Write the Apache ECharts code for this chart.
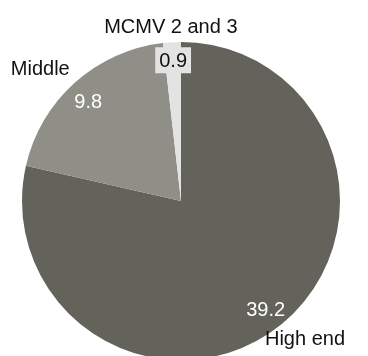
<!DOCTYPE html>
<html lang="en">
<head>
    <meta charset="UTF-8">
    <title>Pie</title>
    <script src="https://cdn.jsdelivr.net/npm/echarts@6/dist/echarts.min.js"></script>
    <style>
        html, body { margin: 0; padding: 0; background: #fff; }
        #main { width: 368px; height: 356px; }
    </style>
</head>
<body>
    <div id="main"></div>
    <script type="text/javascript">
        // data
        const segments = ['High end', 'Middle', 'MCMV 2 and 3'];
        const values = [39.2, 9.8, 0.9];

        const colors = ['#63635b', '#8f8f88', '#e3e3e3'];
        // small nudges for the labels
        const nameShift = [[12, -2], [-21, 2], [0, 6]];
        const valueShift = [[-2, 1], [0, 5], [0, -2]];

        const center = [181, 201];
        const R = 159;
        const font = 'Liberation Sans, Arial, sans-serif';

        const pieData = segments.map((s, i) => ({ name: s, value: values[i] }));

        const chart = echarts.init(document.getElementById('main'));
        const common = {
            type: 'pie',
            center: center,
            startAngle: 90,
            clockwise: true,
            avoidLabelOverlap: false,
            labelLine: { show: false },
            animation: false,
            silent: true,
            data: pieData
        };
        chart.setOption({
            animation: false,
            series: [
                Object.assign({}, common, {
                    radius: R,
                    itemStyle: {
                        color: p => colors[p.dataIndex],
                        borderWidth: 0
                    },
                    label: { show: false }
                }),
                Object.assign({}, common, {
                    radius: [113, R],
                    itemStyle: { color: 'rgba(0,0,0,0)' },
                    label: {
                        show: true,
                        position: 'inside',
                        fontFamily: font,
                        fontSize: 20,
                        formatter: p => p.dataIndex === 2
                            ? '{box|' + p.value + '}'
                            : '{w|' + p.value + '}',
                        rich: {
                            w: { color: '#ffffff', fontSize: 20, fontFamily: font },
                            box: {
                                color: '#111111', fontSize: 20, fontFamily: font,
                                backgroundColor: '#e3e3e3',
                                padding: [4, 4, 2, 4]
                            }
                        }
                    },
                    labelLayout: p => ({
                        dx: valueShift[p.dataIndex][0],
                        dy: valueShift[p.dataIndex][1]
                    })
                }),
                Object.assign({}, common, {
                    radius: [R, 194],
                    itemStyle: { color: 'rgba(0,0,0,0)' },
                    label: {
                        show: true,
                        position: 'inside',
                        color: '#111111',
                        fontFamily: font,
                        fontSize: 20,
                        formatter: '{b}'
                    },
                    labelLayout: p => ({
                        dx: nameShift[p.dataIndex][0],
                        dy: nameShift[p.dataIndex][1]
                    })
                })
            ]
        });
    </script>
</body>
</html>
